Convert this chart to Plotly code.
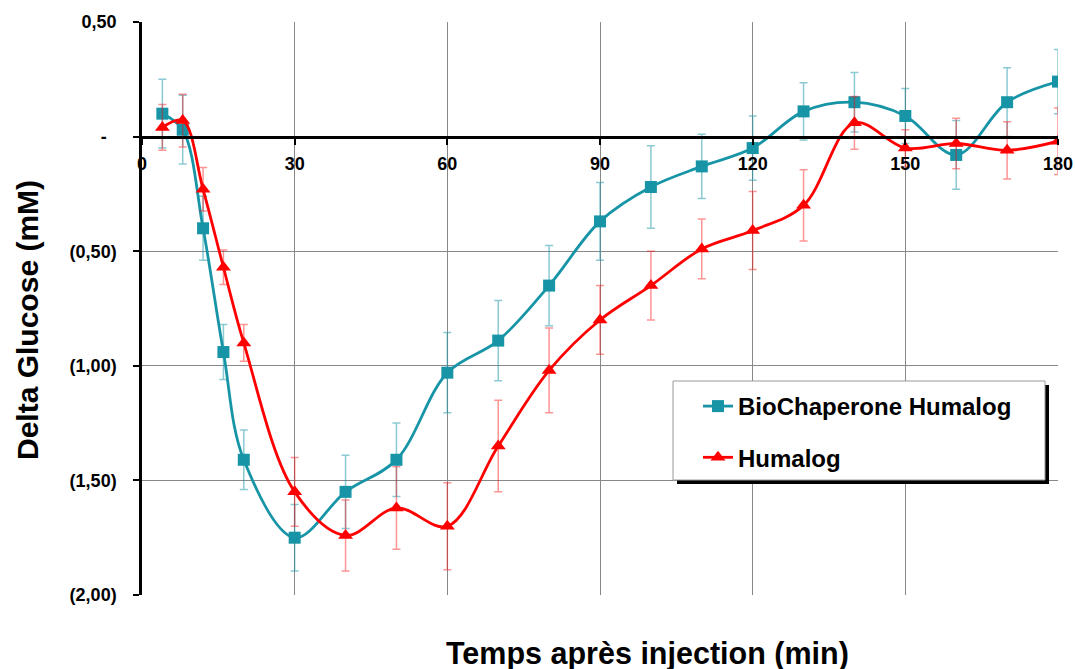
import plotly.graph_objects as go

# ---- data ----
time = [4, 8, 12, 16, 20, 30, 40, 50, 60, 70, 80, 90, 100, 110, 120, 130, 140, 150, 160, 170, 180]
bio = [0.10, 0.03, -0.40, -0.94, -1.41, -1.75, -1.55, -1.41, -1.03, -0.89, -0.65, -0.37,
       -0.22, -0.13, -0.05, 0.11, 0.15, 0.09, -0.08, 0.15, 0.24]
bio_err = [0.15, 0.15, 0.14, 0.12, 0.13, 0.145, 0.16, 0.16, 0.175, 0.175, 0.175, 0.17,
           0.18, 0.14, 0.14, 0.125, 0.13, 0.12, 0.15, 0.15, 0.14]
hum = [0.04, 0.07, -0.23, -0.57, -0.90, -1.55, -1.74, -1.62, -1.70, -1.35, -1.02, -0.80,
       -0.65, -0.49, -0.41, -0.30, 0.06, -0.05, -0.03, -0.06, -0.02]
hum_err = [0.10, 0.115, 0.095, 0.075, 0.08, 0.15, 0.155, 0.18, 0.19, 0.20, 0.185, 0.15,
           0.15, 0.13, 0.17, 0.155, 0.115, 0.08, 0.11, 0.125, 0.145]

series_names = ["BioChaperone Humalog", "Humalog"]
y_tickvals = [0.5, 0, -0.5, -1.0, -1.5, -2.0]
y_ticktext = ["0,50", "-\u00a0\u00a0", "(0,50)", "(1,00)", "(1,50)", "(2,00)"]
x_tickvals = [0, 30, 60, 90, 120, 150, 180]

TEAL = "#1795A7"
RED = "#FF0000"
FONT = "Arial, Liberation Sans, sans-serif"

fig = go.Figure()
fig.add_trace(go.Scatter(
    x=time, y=bio, name=series_names[0], mode="lines+markers",
    line=dict(color=TEAL, width=2.8, shape="spline", smoothing=1.0),
    marker=dict(symbol="square", size=12, color=TEAL),
    error_y=dict(type="data", array=bio_err, visible=True,
                 color="rgba(23,149,167,0.5)", thickness=1.5, width=4),
    legendgroup="a",
))
fig.add_trace(go.Scatter(
    x=time, y=hum, name=series_names[1], mode="lines+markers",
    line=dict(color=RED, width=2.8, shape="spline", smoothing=1.0),
    marker=dict(symbol="triangle-up", size=13, color=RED),
    error_y=dict(type="data", array=hum_err, visible=True,
                 color="rgba(255,0,0,0.42)", thickness=1.5, width=4),
    legendgroup="b",
))

W, H = 1075, 669
L, R, T, B = 142, 17, 22, 74
pw, ph = W - L - R, H - T - B


def px_x(p):
    return (p - L) / pw


def px_y(p):
    return (H - B - p) / ph


# legend box with shadow
shadow = 4
fig.add_shape(type="rect", xref="paper", yref="paper",
              x0=px_x(673 + shadow), x1=px_x(1045 + shadow),
              y0=px_y(480 + shadow), y1=px_y(381 + shadow),
              fillcolor="black", line=dict(width=0), layer="above")
fig.add_shape(type="rect", xref="paper", yref="paper",
              x0=px_x(673), x1=px_x(1045), y0=px_y(480), y1=px_y(381),
              fillcolor="white", line=dict(color="#9a9a9a", width=1), layer="above")

fig.update_layout(
    width=W, height=H,
    margin=dict(l=L, r=R, t=T, b=B, pad=0, autoexpand=False),
    paper_bgcolor="white", plot_bgcolor="white",
    font=dict(family=FONT, color="black"),
    showlegend=True,
    legend=dict(x=px_x(698), y=px_y(384), xanchor="left", yanchor="top",
                bgcolor="rgba(0,0,0,0)", borderwidth=0,
                font=dict(size=24, family=FONT, weight="bold", color="black"),
                tracegroupgap=17),
    xaxis=dict(range=[0, 180], tickvals=x_tickvals, anchor="free", position=0.8,
               automargin=False,
               showline=True, linecolor="black", linewidth=3,
               ticks="outside", ticklen=6, tickwidth=2, tickcolor="black",
               ticklabelstandoff=4,
               tickfont=dict(size=18, family=FONT, weight="bold", color="black"),
               showgrid=True, gridcolor="#888888", gridwidth=1.4,
               zeroline=False, fixedrange=True),
    yaxis=dict(range=[-2.0, 0.5], tickvals=y_tickvals, ticktext=y_ticktext,
               automargin=False,
               showline=True, linecolor="black", linewidth=2.5,
               ticks="outside", ticklen=6, tickwidth=2, tickcolor="black",
               ticklabelstandoff=13,
               tickfont=dict(size=18, family=FONT, weight="bold", color="black"),
               showgrid=True, gridcolor="#888888", gridwidth=1.4,
               zeroline=False, fixedrange=True),
    annotations=[
        dict(text="Delta Glucose (mM)", xref="paper", yref="paper",
             x=px_x(28), y=px_y(320), xanchor="center", yanchor="middle",
             textangle=-90, showarrow=False,
             font=dict(size=30, family=FONT, weight="bold", color="black")),
        dict(text="Temps après injection (min)", xref="paper", yref="paper",
             x=px_x(647), y=px_y(653), xanchor="center", yanchor="middle",
             showarrow=False,
             font=dict(size=30.5, family=FONT, weight="bold", color="black")),
    ],
)

fig.write_html("out.html")
